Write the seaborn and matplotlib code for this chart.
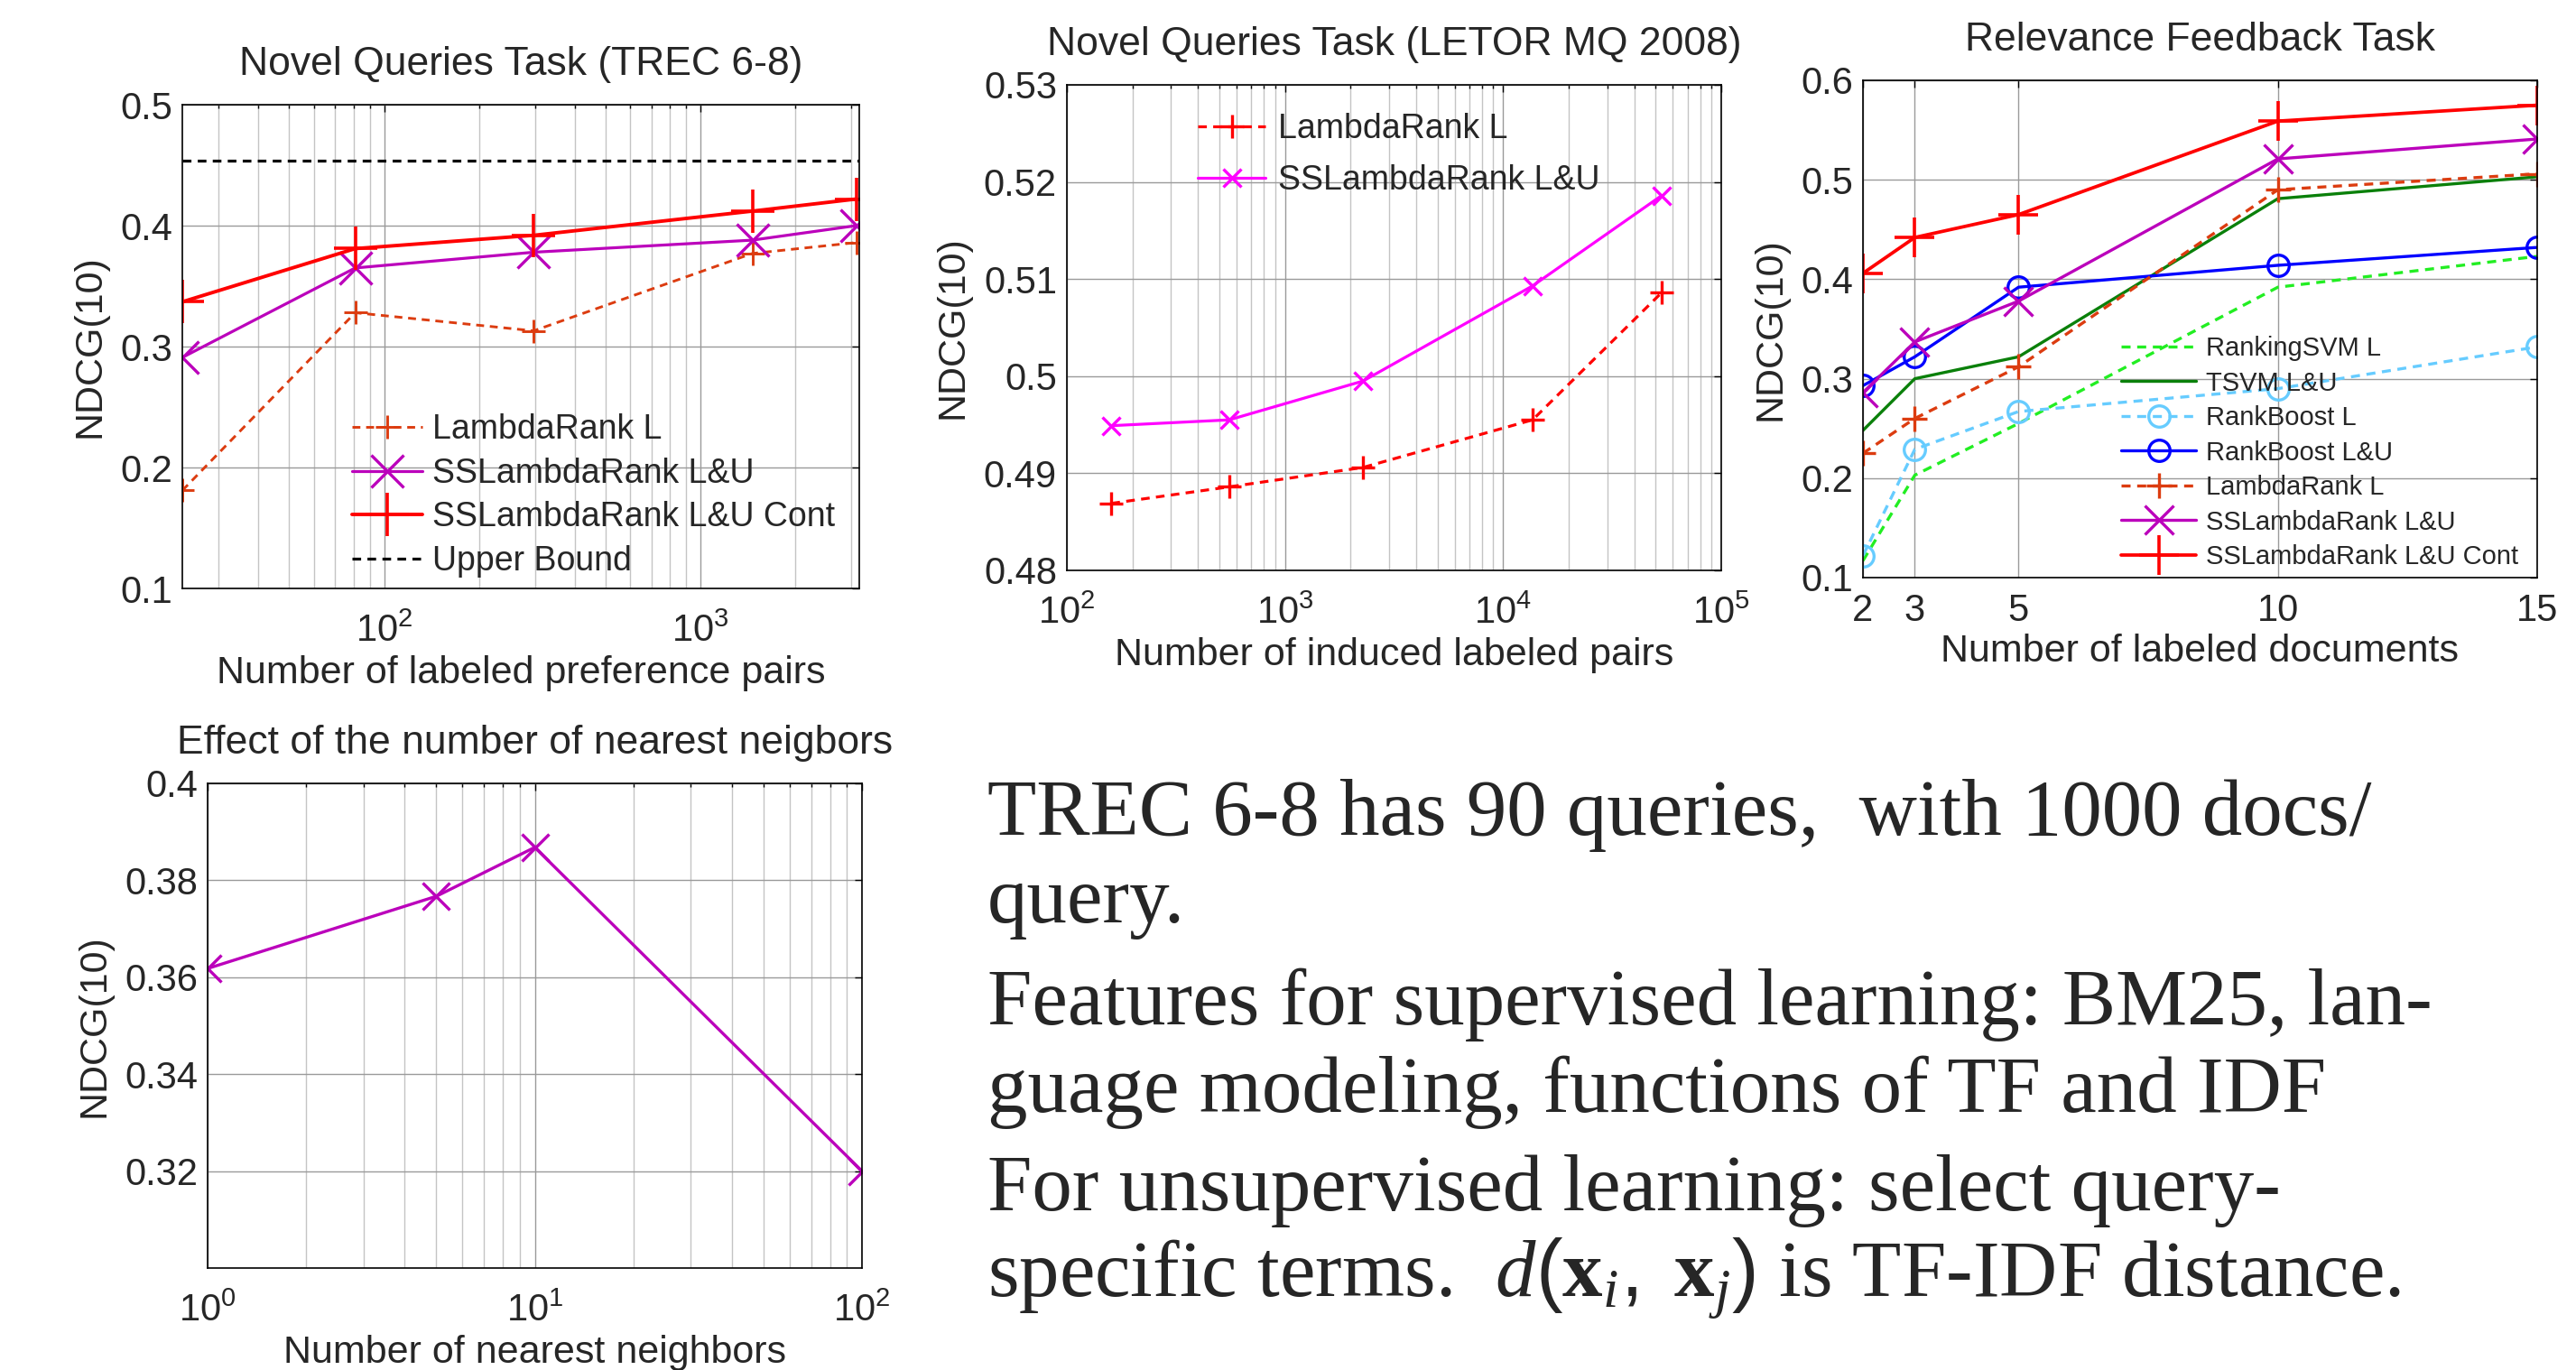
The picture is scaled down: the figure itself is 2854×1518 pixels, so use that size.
import numpy as np
import pandas as pd
import seaborn as sns
import matplotlib
matplotlib.use("Agg")
import matplotlib.pyplot as plt
from matplotlib.ticker import NullFormatter

# novel queries, TREC 6-8
trec_pairs = [23, 81, 297, 1460, 3110]
trec_lambda = [0.181, 0.328, 0.313, 0.377, 0.386]
trec_ss = [0.291, 0.365, 0.378, 0.388, 0.400]
trec_ss_cont = [0.337, 0.381, 0.392, 0.412, 0.422]
trec_upper = 0.454

# novel queries, LETOR MQ 2008
letor_pairs = [160, 555, 2280, 13650, 53300]
letor_lambda = [0.4869, 0.4886, 0.4906, 0.4955, 0.5086]
letor_ss = [0.4949, 0.4955, 0.4995, 0.5093, 0.5186]

# relevance feedback
n_docs = [2, 3, 5, 10, 15]
rf_rankingsvm = [0.117, 0.203, 0.255, 0.392, 0.423]
rf_tsvm = [0.248, 0.300, 0.322, 0.481, 0.503]
rf_rankboost = [0.122, 0.229, 0.267, 0.290, 0.332]
rf_rankboost_lu = [0.293, 0.322, 0.392, 0.414, 0.432]
rf_lambda = [0.225, 0.260, 0.312, 0.490, 0.506]
rf_ss = [0.286, 0.337, 0.378, 0.521, 0.541]
rf_ss_cont = [0.406, 0.442, 0.465, 0.559, 0.575]

# nearest neighbours
n_neighbors = [1, 5, 10, 100]
nn_ndcg = [0.3618, 0.3767, 0.3868, 0.320]

notes = [
    "TREC 6-8 has 90 queries,  with 1000 docs/",
    "query.",
    "Features for supervised learning: BM25, lan-",
    "guage modeling, functions of TF and IDF",
    "For unsupervised learning: select query-",
    r"specific terms.  $d(\mathbf{x}_{i},\ \mathbf{x}_{j})$ is TF-IDF distance.",
]
note_baselines = [925, 1022, 1135, 1232, 1341, 1436]

ORANGE = "#dc3c10"
PURPLE = "#bb00bb"
RED = "#ff0000"
TITLE_FS = 32
LABEL_FS = 31
TICK_FS = 30
LEG_FS = 27

sns.set_style("white")
plt.rcParams["font.family"] = ["Liberation Sans", "DejaVu Sans"]
plt.rcParams["mathtext.fontset"] = "custom"
plt.rcParams["mathtext.rm"] = "Liberation Sans"
plt.rcParams["mathtext.it"] = "Liberation Serif:italic"
plt.rcParams["mathtext.bf"] = "Liberation Serif:bold"

W, H = 2854, 1518
fig = plt.figure(figsize=(W / 100, H / 100), dpi=100)


def add_axes(left, top, right, bottom):
    return fig.add_axes([left / W, 1 - bottom / H, (right - left) / W, (bottom - top) / H])


def line(ax, x, y, color, ls="-", marker=None, ms=0, mew=2.4, label=None, lw=2.4, mfc=None):
    kw = dict(color=color, linestyle=ls, linewidth=lw, label=label, sort=False)
    if marker:
        kw.update(marker=marker, markersize=ms, markeredgewidth=mew,
                  markeredgecolor=color, markerfacecolor=mfc or color)
    sns.lineplot(x=x, y=y, ax=ax, **kw)


def style(ax, title, xlabel, log_x=False):
    ax.set_title(title, fontsize=TITLE_FS, pad=24)
    ax.set_xlabel(xlabel, fontsize=LABEL_FS, labelpad=4)
    ax.set_ylabel("NDCG(10)", fontsize=LABEL_FS, labelpad=10)
    ax.tick_params(which="both", direction="in", top=True, right=True,
                   labelsize=TICK_FS, color="black")
    ax.tick_params(axis="x", which="both", pad=20 if log_x else 12)
    ax.tick_params(axis="y", which="both", pad=8)
    ax.tick_params(which="major", length=6, width=1)
    ax.tick_params(which="minor", length=3, width=1)
    for s in ax.spines.values():
        s.set_color("black")
        s.set_linewidth(1.2)
    ax.set_axisbelow(True)


DASH = (0, (3, 2.2))

# panel 1
ax1 = add_axes(202, 116, 952, 652)
line(ax1, trec_pairs, trec_lambda, ORANGE, DASH, "+", 19, lw=2.1, mew=2.1, label="LambdaRank L")
line(ax1, trec_pairs, trec_ss, PURPLE, "-", "x", 26, lw=2.3, label="SSLambdaRank L&U")
line(ax1, trec_pairs, trec_ss_cont, RED, "-", "+", 34, lw=2.8, mew=2.6, label="SSLambdaRank L&U Cont")
ax1.axhline(trec_upper, color="black", linestyle=DASH, linewidth=2.3, label="Upper Bound")
ax1.set_xscale("log")
ax1.set_xlim(23, 3180)
ax1.set_ylim(0.1, 0.5)
ax1.set_yticks([0.1, 0.2, 0.3, 0.4, 0.5])
ax1.set_yticklabels(["0.1", "0.2", "0.3", "0.4", "0.5"])
ax1.grid(True, which="major", axis="both", color="#9a9a9a", linewidth=1)
ax1.grid(True, which="minor", axis="x", color="#c4c4c4", linewidth=1)
style(ax1, "Novel Queries Task (TREC 6-8)", "Number of labeled preference pairs", log_x=True)
ax1.legend(loc="lower left", bbox_to_anchor=(0.25, 0.022), frameon=False, fontsize=LEG_FS,
           borderpad=0, borderaxespad=0, handlelength=2.08, handletextpad=0.3,
           labelspacing=0.34, numpoints=1)

# panel 2
ax2 = add_axes(1182, 94, 1907, 632)
line(ax2, letor_pairs, letor_lambda, RED, DASH, "+", 19, lw=2.3, label="LambdaRank L")
line(ax2, letor_pairs, letor_ss, "#ff00ff", "-", "x", 14, lw=2.3, label="SSLambdaRank L&U")
ax2.set_xscale("log")
ax2.set_xlim(1e2, 1e5)
ax2.set_ylim(0.48, 0.53)
ax2.set_yticks([0.48, 0.49, 0.50, 0.51, 0.52, 0.53])
ax2.set_yticklabels(["0.48", "0.49", "0.5", "0.51", "0.52", "0.53"])
ax2.grid(True, which="major", axis="both", color="#9a9a9a", linewidth=1)
ax2.grid(True, which="minor", axis="x", color="#c4c4c4", linewidth=1)
style(ax2, "Novel Queries Task (LETOR MQ 2008)", "Number of induced labeled pairs", log_x=True)
ax2.legend(loc="upper left", bbox_to_anchor=(0.2, 0.942), frameon=False, fontsize=LEG_FS,
           borderpad=0, borderaxespad=0, handlelength=2.0, handletextpad=0.37,
           labelspacing=0.55, numpoints=1)

# panel 3
ax3 = add_axes(2064, 89, 2811, 640)
line(ax3, n_docs, rf_rankingsvm, "#22ee22", DASH, label="RankingSVM L")
line(ax3, n_docs, rf_tsvm, "#0a800a", "-", label="TSVM L&U")
line(ax3, n_docs, rf_rankboost, "#66ccff", DASH, "o", 17, mfc="none", label="RankBoost L")
line(ax3, n_docs, rf_rankboost_lu, "#0000ff", "-", "o", 17, mfc="none", label="RankBoost L&U")
line(ax3, n_docs, rf_lambda, ORANGE, DASH, "+", 20, label="LambdaRank L")
line(ax3, n_docs, rf_ss, PURPLE, "-", "x", 23, label="SSLambdaRank L&U")
line(ax3, n_docs, rf_ss_cont, RED, "-", "+", 32, lw=2.7, mew=2.6, label="SSLambdaRank L&U Cont")
ax3.set_xlim(2, 15)
ax3.set_ylim(0.1, 0.6)
ax3.set_xticks(n_docs)
ax3.set_xticklabels([str(v) for v in n_docs])
ax3.set_yticks([0.1, 0.2, 0.3, 0.4, 0.5, 0.6])
ax3.set_yticklabels(["0.1", "0.2", "0.3", "0.4", "0.5", "0.6"])
ax3.grid(True, which="major", axis="both", color="#9a9a9a", linewidth=1)
style(ax3, "Relevance Feedback Task", "Number of labeled documents")
ax3.legend(loc="lower left", bbox_to_anchor=(0.383, 0.016), frameon=False, fontsize=21,
           borderpad=0, borderaxespad=0, handlelength=2.85, handletextpad=0.37,
           labelspacing=0.36, numpoints=1)

# panel 4
ax4 = add_axes(230, 868, 955, 1405)
line(ax4, n_neighbors, nn_ndcg, PURPLE, "-", "x", 22, lw=2.4)
ax4.set_xscale("log")
ax4.set_xlim(1, 100)
ax4.set_ylim(0.30, 0.40)
ax4.set_yticks([0.32, 0.34, 0.36, 0.38, 0.40])
ax4.set_yticklabels(["0.32", "0.34", "0.36", "0.38", "0.4"])
ax4.grid(True, which="major", axis="both", color="#9a9a9a", linewidth=1)
ax4.grid(True, which="minor", axis="x", color="#c4c4c4", linewidth=1)
style(ax4, "Effect of the number of nearest neigbors", "Number of nearest neighbors", log_x=True)

for ax in (ax1, ax2, ax4):
    ax.xaxis.set_minor_formatter(NullFormatter())

for txt, b in zip(notes, note_baselines):
    fig.text(1094 / W, 1 - b / H, txt, fontsize=64, va="baseline", ha="left",
             family=["Liberation Serif", "DejaVu Serif"])

fig.savefig("out.png", dpi=100, facecolor="white")
